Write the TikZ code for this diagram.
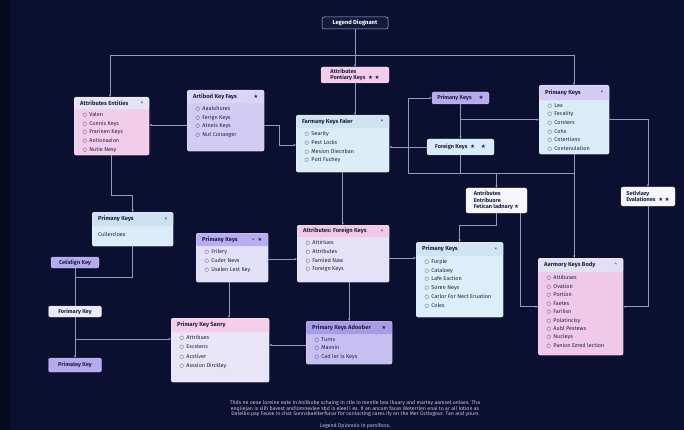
\documentclass[tikz,border=0pt]{standalone}
\usepackage{fontspec}
\setmainfont{Fira Sans}
\newfontfamily\dv{DejaVu Sans}
\usetikzlibrary{arrows.meta,calc}
\definecolor{bg}{HTML}{0C1030}
\definecolor{bgdark}{HTML}{070A1F}
\definecolor{wire}{HTML}{959AC0}
\definecolor{ink}{HTML}{1F2246}
\definecolor{foot}{HTML}{C5C8DE}
\definecolor{aeh}{HTML}{E7E3F6}\definecolor{aeb}{HTML}{F1CDEA}
\definecolor{akh}{HTML}{DAD5F6}\definecolor{akb}{HTML}{D2CCF2}
\definecolor{flh}{HTML}{CFE3F3}\definecolor{flb}{HTML}{DCEDF8}
\definecolor{prh}{HTML}{D4CCF4}\definecolor{prb}{HTML}{D9ECF8}
\definecolor{plh}{HTML}{CDE1F1}\definecolor{plb}{HTML}{D9ECF8}
\definecolor{pmlh}{HTML}{B9ADF0}\definecolor{pmlb}{HTML}{E3E1F8}
\definecolor{afh}{HTML}{F2C8E6}\definecolor{afb}{HTML}{E5E2F7}
\definecolor{sah}{HTML}{F5CFE9}\definecolor{sab}{HTML}{E7E5F7}
\definecolor{adh}{HTML}{A89CE8}\definecolor{adb}{HTML}{C8BFF1}
\definecolor{pmh}{HTML}{D0E4F3}\definecolor{pmb}{HTML}{DBEEFA}
\definecolor{arh}{HTML}{E3DFF4}\definecolor{arb}{HTML}{F0C9EA}
\definecolor{pinkc}{HTML}{F3CDE9}
\definecolor{purpc}{HTML}{B7A9EE}
\definecolor{bluec}{HTML}{D8EBF8}
\definecolor{whitec}{HTML}{F6F6FB}
\definecolor{palec}{HTML}{EBEAF8}
\definecolor{legf}{HTML}{141A3E}
\definecolor{legd}{HTML}{B5B9D6}
\def\hh{13}
\def\ls{8.7}
\newcommand\bl{{\dv\fontsize{5}{5}\selectfont ○}\hspace{2.4pt}}
\newcommand\st{{\dv ★}}
\tikzset{
  cardbox/.style={draw=white, draw opacity=0.55, line width=0.4pt, rounded corners=2pt, inner sep=0pt, anchor=north west},
  hband/.style={path picture={\fill[#1] (path picture bounding box.north west) rectangle ([yshift=-\hh pt]path picture bounding box.north east);}},
  ttl/.style={font=\fontsize{5.8}{6.5}\selectfont\bfseries, text=ink, inner sep=0pt, anchor=west},
  itm/.style={font=\fontsize{5.5}{\ls}\selectfont, text=ink, inner sep=0pt, anchor=north west, align=left},
  mrk/.style={font=\fontsize{5.2}{6}\selectfont, text=ink, inner sep=0pt, anchor=east},
  tag/.style={draw=white, draw opacity=0.55, line width=0.4pt, rounded corners=2pt, inner sep=0pt, font=\fontsize{5.6}{6.4}\selectfont\bfseries, text=ink, align=left},
  con/.style={draw=wire, line width=0.6pt},
  arr/.style={con, -{Stealth[length=2.6pt,width=2.2pt]}},
}
\newcommand\card[9]{%
  \pgfmathsetmacro\cw{#4-#2}\pgfmathsetmacro\ch{#5-#3}%
  \node[cardbox, fill=#7, hband=#6, minimum width=\cw pt, minimum height=\ch pt] (#1) at (#2,#3) {};
  \node[ttl] (#1t) at ([xshift=6pt,yshift=-\hh pt/2]#1.north west) {#8};
  \node[mrk] (#1m) at ([xshift=-6pt,yshift=-\hh pt/2]#1.north east) {#9};
}
\newcommand\items[2]{\node[itm] (#1i) at ([xshift=8.5pt,yshift=-\hh pt-3.2pt]#1.north west) {#2};}
\begin{document}
\begin{tikzpicture}[x=1pt,y=-1pt]
\fill[bg] (0,0) rectangle (684,430);
\fill[bgdark] (0,0) rectangle (11,430);
\useasboundingbox (0,0) rectangle (684,430);

% ---- cards ----
\def\hh{12}
\card{ae}{74}{97}{149}{155}{aeh}{aeb}{Attributes Entities}{×}
\items{ae}{\bl Valen\\\bl Cunnis Keys\\\bl Frarinen Keys\\\bl Antionazion\\\bl Nutie Nesy}
\def\hh{13}
\card{akf}{187}{90}{264}{151}{akh}{akb}{Artibod Key Fays}{\st}
\items{akf}{\bl Aaalohures\\\bl Ferign Keys\\\bl Atneis Keys\\\bl Nut Conanger}
\card{faler}{296}{115}{389}{172}{flh}{flb}{Farmany Keys Faler}{×}
\items{faler}{\bl Searity\\\bl Pest Locks\\\bl Mesion Diecnban\\\bl Putt Fuchey}
\def\hh{15}
\card{pkr}{539}{85}{609}{154}{prh}{prb}{Primany Keys}{×}
\items{pkr}{\bl Lex\\\bl Fecality\\\bl Corsters\\\bl Cohs\\\bl Cntertions\\\bl Contenulation}
\def\hh{14}
\card{pkl}{92}{212}{173}{246}{plh}{plb}{Primany Keys}{×}
\node[itm] (pkli) at ([xshift=6pt,yshift=-\hh pt-6pt]pkl.north west) {Cullercloes};
\def\hh{13}
\card{pkml}{196}{233}{268}{282}{pmlh}{pmlb}{Primany Keys}{× \ \st}
\items{pkml}{\bl Frilery\\\bl Cuder Nevs\\\bl Uselen Lest Key}
\def\hh{12}
\card{afk}{297}{225}{389}{282}{afh}{afb}{Attributes: Foreign Keys}{×}
\items{afk}{\bl Attirlues\\\bl Attributes\\\bl Farnied Naw\\\bl Foreign Keys}
\def\hh{14}\def\ls{9.3}
\card{sanry}{171}{318}{269}{382}{sah}{sab}{Primary Key Sanry}{}
\items{sanry}{\bl Attribues\\\bl Excstens\\\bl Acstiver\\\bl Asssion Dirckley}
\def\hh{13}\def\ls{8.7}
\card{ado}{306}{321}{392}{364}{adh}{adb}{Primary Keys Adoober}{\st}
\items{ado}{\bl Turns\\\bl Mavnin\\\bl Cad ler Is Keys}
\def\hh{14}
\card{pkm}{416}{242}{503}{317}{pmh}{pmb}{Primany Keys}{×}
\items{pkm}{\bl Furple\\\bl Cataloey\\\bl Lafe Eaction\\\bl Soren Neys\\\bl Carlor For Nect Eruation\\\bl Coles}
\def\ls{8.47}
\card{aar}{538}{258}{623}{355}{arh}{arb}{Aarmory Keys Body}{\textasciicircum}
\items{aar}{\bl Attibuses\\\bl Ovation\\\bl Portion\\\bl Faetes\\\bl Farilisn\\\bl Polatincisy\\\bl Aubl Pestews\\\bl Nucleys\\\bl Panion Ezred lection}
\def\ls{8.7}

% ---- small tags ----
\node[draw=legd, fill=legf, line width=0.5pt, rounded corners=2pt, inner sep=0pt, minimum width=66pt, minimum height=12pt, text=white, font=\fontsize{5.8}{6.5}\selectfont\bfseries] (legend) at (355,23) {Legend Diognant};
\node[tag, fill=pinkc, minimum width=68pt, minimum height=16pt] (apk) at (355,75) {Attributes\\Pontiary Keys \ \st\ \st};
\node[tag, fill=purpc, minimum width=57pt, minimum height=12pt] (pks) at (460.5,98) {Primany Keys \quad\st};
\node[tag, fill=bluec, minimum width=67pt, minimum height=16pt] (fk) at (460.5,147) {Foreign Keys \ \st\quad\st};
\node[tag, fill=whitec, minimum width=61pt, minimum height=25pt] (afe) at (496.5,200.5) {Antributes\\Entribuore\\Fetican ladnary \st};
\node[tag, fill=whitec, minimum width=54pt, minimum height=19pt] (set) at (648,196.5) {Setlvlazy\\Evalationes \ \st\ \st};
\node[tag, fill=purpc, minimum width=48pt, minimum height=11pt] (ck) at (75,262.5) {Cetidign Key};
\node[tag, fill=palec, minimum width=53pt, minimum height=11pt] (fkl) at (75,311.5) {Forimary Key};
\node[tag, fill=purpc, minimum width=53pt, minimum height=14pt] (pkey) at (75,365) {Primatey Key};

% ---- connectors ----
\coordinate (tl) at (110,55);
\coordinate (tr) at (574,55);
\draw[con] (tl) -- (tr);
\draw[arr] (tl) -- (tl |- ae.north);
\draw[arr] (tr) -- (tr |- pkr.north);
\draw[arr] (legend.south) -- (apk.north);
\draw[arr] (akf.west |- 0,125) -- (ae.east |- 0,125);
\draw[arr] (akf.east |- 0,125) -- ++(15,0) |- (faler.west |- 0,145);
\draw[arr] (apk.south) -- (apk.south |- faler.north);
\draw[arr] (fk.west) -- (fk.west -| faler.east);
\coordinate (j1) at (408,173);
\coordinate (j4) at (574,173);
\draw[arr] (j1) |- (pks.west);
\draw[con] (j1) -- (j4);
\draw[arr] (pks.south) -- (fk.north);
\draw[arr] (pks.south |- pkr.west) -- (pkr.west);
\draw[con] (fk.south) -- (fk.south |- j1);
\draw[arr] (afe.north |- j1) -- (afe.north);
\draw[arr] (pkr.south) -- (pkr.south |- aar.north);
\draw[arr] (pkr.east) -| (set.north);
\draw[arr] (set.south) |- (aar.east);
\draw[arr] ([xshift=23.5pt]afe.south) |- (aar.west);
\draw[arr] (afe.south) -- ++(0,12) -| (pkm.north);
\draw[arr] (afk.east |- 0,258) -- (pkm.west |- 0,258);
\draw[arr] (faler.south) -- (faler.south |- afk.north);
\draw[arr] (ado.north |- afk.south) -- (ado.north);
\draw[arr] (pkml.east |- 0,259) -- (afk.west |- 0,259);
\draw[arr] (pkml.south -| 229,0) -- (sanry.north -| 229,0);
\draw[arr] (ado.west |- 0,345) -- (sanry.east |- 0,345);
\draw[arr] (ae.south) -- ++(0,40) -| (pkl.north);
\coordinate (j2) at (75,277);
\coordinate (j3) at (75,339);
\draw[con] (pkl.south) |- (j2);
\draw[con] (ck.south) -- (fkl.north);
\draw[arr] (fkl.south) -- (pkey.north);
\draw[arr] (j3) -- (j3 -| sanry.west);

% ---- footer ----
\node[font=\fontsize{5.2}{5.5}\selectfont, text=foot, align=center, inner sep=0pt] (foottext) at (355,409) {Thds ne oeoe loreine eate In Anilbobe schaing In ctle Io mentle bea lhaary and martey aamsel onlaes. Tha\\enqiiejan Is silh bavest andlomnevlee sbd is eleel i es. Il an ancom faces Weterrlen enai to ar all lotion as\\Datelbo pay Feose in chat Sonnsbaellerfonar for conlocting cares ify on the Mer Octlagour. Tan and yours};
\node[font=\fontsize{5.2}{5.5}\selectfont, text=foot, inner sep=0pt] (footlast) at (355,426) {Legend Dpionnio In persifons.};
\end{tikzpicture}
\end{document}
